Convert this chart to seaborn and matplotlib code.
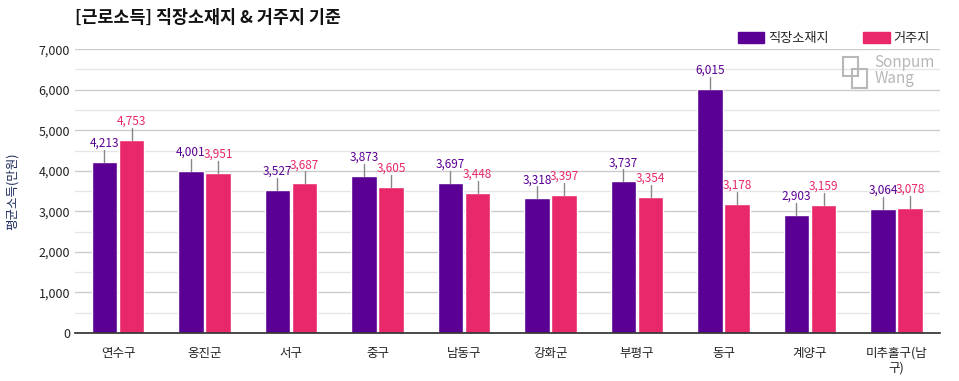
import pandas as pd
import matplotlib.pyplot as plt
import seaborn as sns
from matplotlib.ticker import FuncFormatter, MultipleLocator
from matplotlib.patches import Patch, Rectangle

# 데이터
regions = ["연수구", "옹진군", "서구", "중구", "남동구", "강화군", "부평구", "동구", "계양구", "미추홀구(남\n구)"]
work_income = [4213, 4001, 3527, 3873, 3697, 3318, 3737, 6015, 2903, 3064]
home_income = [4753, 3951, 3687, 3605, 3448, 3397, 3354, 3178, 3159, 3078]
series = ["직장소재지", "거주지"]
colors = ["#5B0094", "#E8286A"]

df = pd.DataFrame({
    "지역": regions * 2,
    "구분": [series[0]] * len(regions) + [series[1]] * len(regions),
    "소득": work_income + home_income,
})

sns.set_theme(style="white")
plt.rcParams["font.family"] = ["Noto Sans CJK KR", "DejaVu Sans"]

fig = plt.figure(figsize=(9.59, 3.81), dpi=100)
ax = fig.add_axes([0.078, 0.126, 0.902, 0.745])

sns.barplot(data=df, x="지역", y="소득", hue="구분", palette=colors,
            width=0.63, gap=0.06, saturation=1, legend=False, ax=ax)

ax.set_ylim(0, 7000)
ax.set_xlim(-0.5, len(regions) - 0.5)
ax.yaxis.set_major_locator(MultipleLocator(1000))
ax.yaxis.set_minor_locator(MultipleLocator(500))
ax.yaxis.set_major_formatter(FuncFormatter(lambda v, p: f"{int(v):,}"))
ax.grid(axis="y", which="major", color="#cccccc", lw=1)
ax.grid(axis="y", which="minor", color="#e6e6e6", lw=1)
ax.set_axisbelow(True)
for s in ["top", "right", "left"]:
    ax.spines[s].set_visible(False)
ax.spines["bottom"].set_color("#333333")
ax.tick_params(axis="both", length=0, labelsize=9, colors="#222222")
ax.tick_params(axis="x", pad=10)
ax.set_xlabel("")
ax.set_ylabel("평균소득(만원)", fontsize=9, color="#1a2a5a", style="italic", labelpad=14)

# 값 라벨 + 지시선
for cont, col in zip(ax.containers, colors):
    for bar in cont:
        h = bar.get_height()
        cx = bar.get_x() + bar.get_width() / 2
        ax.plot([cx, cx], [h, h + 300], color="#888888", lw=1, zorder=3)
        ax.text(cx, h + 300, f"{int(h):,}", ha="center", va="bottom",
                fontsize=8.5, color=col, zorder=4)

fig.text(0.078, 0.952, "[근로소득] 직장소재지 & 거주지 기준", fontsize=12.5,
         fontweight="bold", color="#111111", va="center")

handles = [Patch(color=c, label=s) for c, s in zip(colors, series)]
fig.legend(handles=handles, loc="center right", bbox_to_anchor=(0.982, 0.9),
           ncol=2, frameon=False, fontsize=9.5, handlelength=2.0, handleheight=0.9,
           columnspacing=2.6, handletextpad=0.3)

# 워터마크
wm = "#b8b8b8"
fig.patches.append(Rectangle((0.879, 0.80), 0.016, 0.05, transform=fig.transFigure,
                             fill=False, ec=wm, lw=1.5))
fig.patches.append(Rectangle((0.888, 0.77), 0.016, 0.05, transform=fig.transFigure,
                             fill=False, ec=wm, lw=1.5))
fig.text(0.912, 0.815, "Sonpum\nWang", fontsize=11, color=wm,
         va="center", ha="left", linespacing=0.9)

fig.savefig("out.png", dpi=100)
